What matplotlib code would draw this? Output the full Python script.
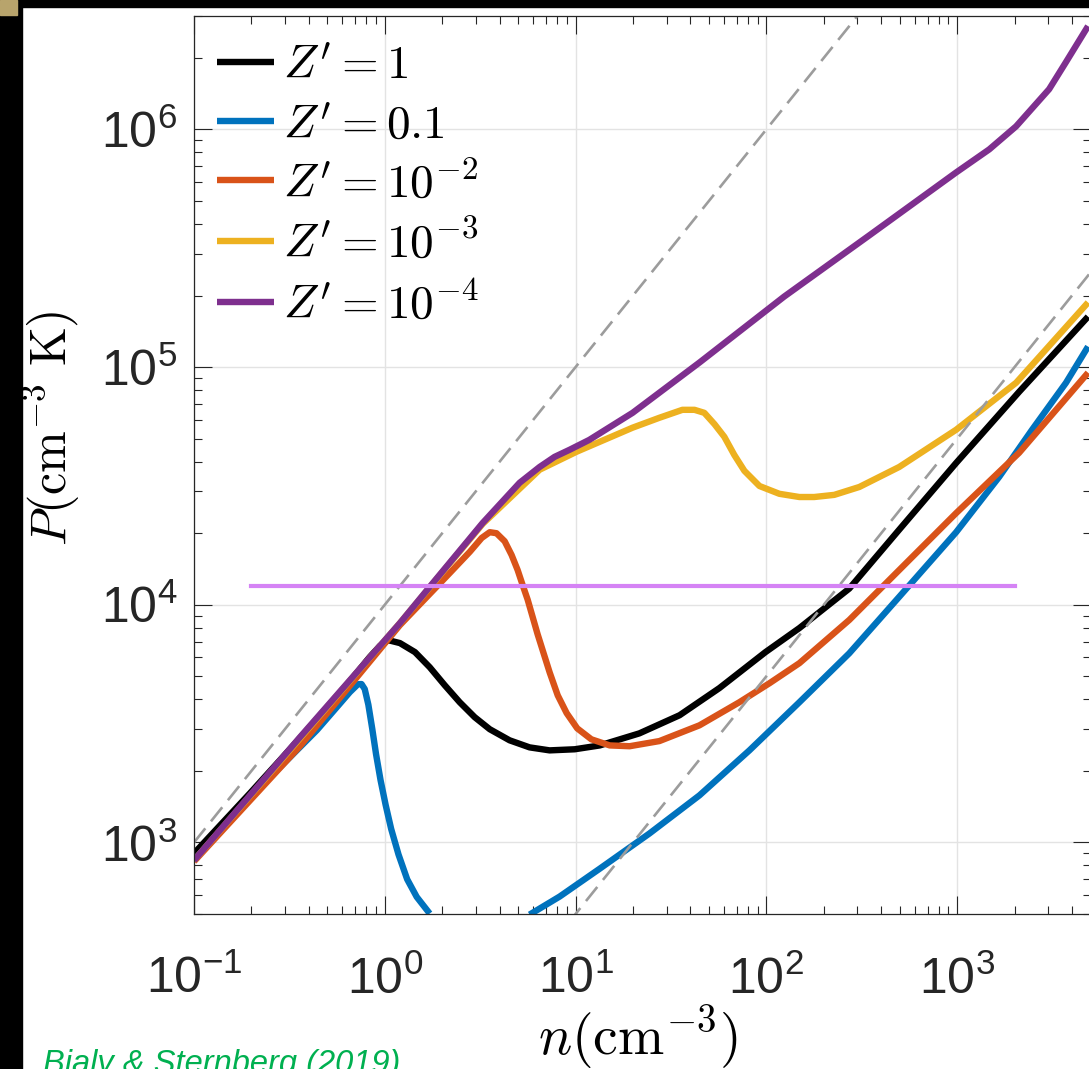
import numpy as np
import matplotlib
matplotlib.use('Agg')
import matplotlib.pyplot as plt
from matplotlib import font_manager
from matplotlib.font_manager import FontProperties
from matplotlib.patches import Rectangle

#%% fuentes
names = {f.name for f in font_manager.fontManager.ttflist}
narrow = 'Liberation Sans Narrow' in names
sans = 'Liberation Sans Narrow' if narrow else 'Liberation Sans'
plt.rcParams['font.family'] = sans
plt.rcParams['mathtext.fontset'] = 'custom'
plt.rcParams['mathtext.rm'] = sans
plt.rcParams['mathtext.it'] = sans + ':italic'
plt.rcParams['mathtext.bf'] = sans + ':bold'
plt.rcParams['lines.scale_dashes'] = False

#%% datos
n_Z1 = [0.10, 0.137, 0.196, 0.282, 0.404, 0.561, 0.697, 0.834, 0.941, 1.04, 1.20, 1.44,
        1.72, 2.06, 2.47, 2.96, 3.55, 4.51, 5.74, 7.31, 9.89, 13.4, 21.6, 35.1, 56.7,
        98.9, 149, 272, 497, 988, 2113, 4855]
P_Z1 = [899, 1180, 1607, 2217, 3054, 4080, 5060, 6030, 6700, 7100, 6900, 6320,
        5460, 4590, 3890, 3365, 2995, 2690, 2512, 2440, 2466, 2560, 2877, 3430, 4460,
        6320, 7980, 1.17e4, 2.07e4, 3.95e4, 7.87e4, 1.63e5]

n_Z01_a = [0.10, 0.196, 0.318, 0.441, 0.561, 0.656, 0.723, 0.755, 0.785, 0.82, 0.86,
           0.90, 0.95, 1.01, 1.08, 1.18, 1.31, 1.47, 1.72]
P_Z01_a = [840, 1549, 2280, 2970, 3710, 4290, 4630, 4640, 4420, 3800, 3000,
           2350, 1830, 1440, 1140, 890, 700, 590, 502]
n_Z01_b = [5.74, 8.25, 13.4, 24.4, 44.6, 81.5, 149, 272, 497, 988, 1660, 2470, 3720, 4855]
P_Z01_b = [497, 592, 776, 1091, 1578, 2440, 3890, 6250, 1.08e4, 2.02e4, 3.45e4,
           5.45e4, 8.59e4, 1.22e5]

n_Z2 = [0.10, 0.359, 1.20, 2.19, 2.79, 3.22, 3.55, 3.85, 4.25, 4.62, 4.97, 5.28, 5.61,
        5.96, 6.32, 6.72, 7.31, 8.06, 8.98, 10.2, 12.1, 15.1, 19.2, 27.5, 44.6, 72.2,
        104, 149, 272, 497, 988, 2113, 4855]
P_Z2 = [832, 2540, 8210, 1.36e4, 1.67e4, 1.91e4, 2.02e4, 2.00e4, 1.85e4, 1.62e4, 1.40e4,
        1.21e4, 1.05e4, 8870, 7530, 6440, 5200, 4160, 3500, 3020, 2716, 2560, 2540, 2670,
        3110, 3890, 4680, 5680, 8630, 1.40e4, 2.43e4, 4.36e4, 9.47e4]

n_Z3 = [0.10, 0.359, 1.20, 3.26, 6.48, 10.1, 19.9, 27.5, 36.3, 42.0, 47.3, 53.5, 60.2,
        67.9, 76.7, 92, 117, 149, 178, 227, 307, 497, 988, 2037, 4855]
P_Z3 = [840, 2740, 8370, 2.19e4, 3.70e4, 4.40e4, 5.56e4, 6.12e4, 6.61e4, 6.61e4, 6.42e4,
        5.75e4, 5.09e4, 4.27e4, 3.66e4, 3.16e4, 2.93e4, 2.84e4, 2.84e4, 2.90e4, 3.13e4,
        3.80e4, 5.45e4, 8.59e4, 1.87e5]

n_Z4 = [0.10, 0.359, 1.20, 1.78, 3.26, 5.09, 6.48, 7.76, 9.31, 11.8, 19.9, 44.6, 124,
        346, 988, 1473, 2037, 3034, 3720, 4855]
P_Z4 = [840, 2770, 8370, 1.23e4, 2.21e4, 3.26e4, 3.80e4, 4.19e4, 4.49e4, 4.94e4,
        6.42e4, 1.045e5, 1.98e5, 3.58e5, 6.59e5, 8.24e5, 1.03e6, 1.476e6, 1.92e6, 2.72e6]

# isotermas (T = 1e4 K y T = 50 K) y presion termica
n_iso = [0.1, 5000]
P_warm = [1e3, 5e7]
P_cold = [5, 2.5e5]
n_th = [0.2, 2000]
P_th = [1.2e4, 1.2e4]

labels = [r"$Z' = 1$", r"$Z' = 0.1$", r"$Z' = 10^{-2}$", r"$Z' = 10^{-3}$", r"$Z' = 10^{-4}$"]
colores = ['k', '#0072BD', '#D95319', '#EDB120', '#7E2F8E']

#%% figura
W, H = 1089, 1069
fig = plt.figure(figsize=(W/100, H/100), dpi=100)
fig.patches.extend([
    Rectangle((0, 0), 22/W, 1, transform=fig.transFigure, color='black', zorder=0),
    Rectangle((0, 1-7/H), 1, 7/H, transform=fig.transFigure, color='black', zorder=0),
    Rectangle((0, 1-15/H), 17/W, 15/H, transform=fig.transFigure, color='#b8a46c', zorder=1),
])
ax = fig.add_axes([194/W, 155/H, 896.5/W, 898/H])
ax.set_xscale('log')
ax.set_yscale('log')

lw = 4.6
kw = dict(lw=lw, solid_capstyle='butt', solid_joinstyle='round')
ax.plot(n_Z1, P_Z1, color=colores[0], label=labels[0], **kw)
n_Z01 = n_Z01_a + [np.nan] + n_Z01_b
P_Z01 = P_Z01_a + [np.nan] + P_Z01_b
ax.plot(n_Z01, P_Z01, color=colores[1], label=labels[1], **kw)
ax.plot(n_Z2, P_Z2, color=colores[2], label=labels[2], **kw)
ax.plot(n_Z3, P_Z3, color=colores[3], label=labels[3], **kw)
ax.plot(n_Z4, P_Z4, color=colores[4], label=labels[4], **kw)

ax.plot(n_iso, P_warm, color='#9c9c9c', lw=1.9, ls='--', dashes=(13, 6.5))
ax.plot(n_iso, P_cold, color='#9c9c9c', lw=1.9, ls='--', dashes=(13, 6.5))
ax.plot(n_th, P_th, color='#d583f5', lw=3.0)

ax.set_xlim(0.1, 5000)
ax.set_ylim(500, 3e6)

ax.set_axisbelow(True)
ax.grid(True, which='major', color='#e3e3e3', lw=1.0)
for s in ax.spines.values():
    s.set_color('#262626')
    s.set_linewidth(0.9)
ax.tick_params(which='both', direction='in', top=True, right=True, color='#262626',
               labelcolor='#262626')
ax.tick_params(which='major', length=13, width=0.8, labelsize=36)
ax.tick_params(which='minor', length=6, width=0.8)
ax.tick_params(axis='x', which='major', pad=30)
ax.tick_params(axis='y', which='major', pad=12)

ax.legend(loc='upper left', bbox_to_anchor=(23/896.5, 0.968), frameon=False,
          prop=FontProperties(size=34, math_fontfamily='cm'), handlelength=1.2,
          handletextpad=0.2, labelspacing=0.31, borderpad=0, borderaxespad=0)

fig.text(51/W, 1-428/H, r'$P(\mathrm{cm}^{-3}\ \mathrm{K})$', rotation=90,
         ha='center', va='center', fontsize=36, math_fontfamily='cm')
fig.text(638/W, 1-1055/H, r'$n(\mathrm{cm}^{-3})$', ha='center', va='baseline',
         fontsize=40, math_fontfamily='cm')
fig.text(43/W, -4/H, 'Bialy & Sternberg (2019)', color='#00B050', style='italic',
         fontsize=26 if narrow else 23.5, ha='left', va='baseline')

plt.savefig('out.png', dpi=100)
